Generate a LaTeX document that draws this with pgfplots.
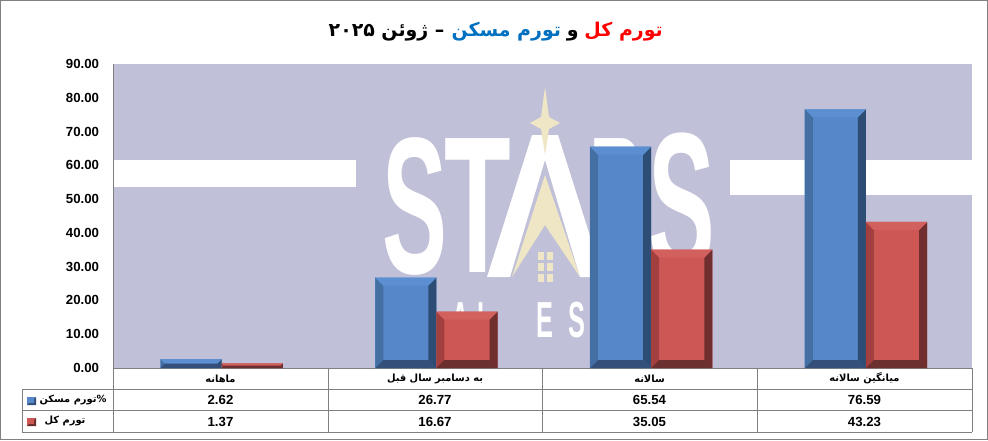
\documentclass[border=0pt]{standalone}
\usepackage{pgfplots}
\usepackage{pgfplotstable}
\usepackage{fontspec}
\pgfplotsset{compat=1.18}
\setmainfont{Liberation Sans}
\TeXXeTstate=1
\newfontfamily\arabicfont[Script=Arabic]{DejaVu Sans}
\definecolor{bgl}{HTML}{C0C0D8}
\definecolor{gridg}{HTML}{808080}
\definecolor{wmy}{HTML}{EFE6C6}
\definecolor{bface}{HTML}{5688C9}
\definecolor{bleft}{HTML}{436FA3}
\definecolor{bright}{HTML}{2E4D74}
\definecolor{btop}{HTML}{5B8FD2}
\definecolor{bbot}{HTML}{34507A}
\definecolor{rface}{HTML}{CD5755}
\definecolor{rleft}{HTML}{A33F3E}
\definecolor{rright}{HTML}{702E2E}
\definecolor{rtop}{HTML}{D2605C}
\definecolor{rbot}{HTML}{6B2F2F}
\definecolor{ttlblue}{HTML}{0070C0}

\pgfplotstableread{
x housing general
0 2.62 1.37
1 26.77 16.67
2 65.54 35.05
3 76.59 43.23
}\inflationdata

% x left edge, value, colour prefix (b or r): four bevel strips on a bar
\newcommand{\bevelbar}[3]{%
  \pgfmathsetmacro{\xa}{#1}%
  \pgfmathsetmacro{\xb}{#1+0.2845}%
  \pgfmathsetmacro{\dpx}{min(8,#2*3.378/2)}%
  \pgfmathsetmacro{\xi}{#1+\dpx/214.75}%
  \pgfmathsetmacro{\xj}{#1+0.2845-\dpx/214.75}%
  \pgfmathsetmacro{\ya}{\dpx/3.378}%
  \pgfmathsetmacro{\yb}{#2-\dpx/3.378}%
  \addplot[fill=#3left,draw=none,forget plot] coordinates {(\xa,0) (\xi,\ya) (\xi,\yb) (\xa,#2)};
  \addplot[fill=#3right,draw=none,forget plot] coordinates {(\xb,0) (\xj,\ya) (\xj,\yb) (\xb,#2)};
  \addplot[fill=#3top,draw=none,forget plot] coordinates {(\xa,#2) (\xi,\yb) (\xj,\yb) (\xb,#2)};
  \addplot[fill=#3bot,draw=none,forget plot] coordinates {(\xa,0) (\xi,\ya) (\xj,\ya) (\xb,0)};
}
\newcommand{\wmletter}[5]{% x, y, hscale, size, text
  \node[white,inner sep=0pt] at (#1,#2) {\scalebox{#3}[1]{\fontsize{#4}{#4}\selectfont\bfseries #5}};}
\newcommand{\fa}[1]{{\arabicfont\bfseries\beginR #1\endR}}

\begin{document}
\begin{tikzpicture}
% pixel coordinates, y down
\begin{scope}[x=0.75pt,y=-0.75pt,yshift=330pt]
\fill[white] (0,0) rectangle (988,440);
\draw[gridg,line width=0.8pt] (0.6,0.6) rectangle (987.4,439.4);

% plot background and watermark
\fill[bgl] (113,64) rectangle (972,368);
\fill[white] (113,160) rectangle (356,187);
\fill[white] (730,160) rectangle (972,195);
\wmletter{415}{206}{0.50}{146}{S}
\wmletter{478}{206}{0.56}{146}{T}
\fill[white] (532,135) -- (558,135) -- (603,277) -- (580,277) -- (545,160) -- (510,277) -- (487,277) -- cycle;
\wmletter{618}{206}{0.40}{146}{R}
\wmletter{682}{204}{0.50}{150}{S}
\fill[wmy] (545,87) -- (549,117) -- (560,123) -- (549,129) -- (545,155) -- (541,129) -- (530,123) -- (541,117) -- cycle;
\fill[wmy] (545,175) -- (580,277) -- (545,225) -- (512,277) -- cycle;
\foreach \wx in {538,547} \foreach \wy in {252,263,274}
  \fill[wmy] (\wx,\wy) rectangle ++(6,8);
\wmletter{461}{320}{0.5}{38}{A}
\wmletter{485}{320}{0.5}{38}{L}
\wmletter{545}{320}{0.5}{38}{E}
\wmletter{577}{320}{0.5}{38}{S}
\end{scope}

\begin{axis}[
  at={(84.75pt,54pt)},anchor=south west,
  scale only axis,width=644.25pt,height=228pt,
  xmin=-0.506,xmax=3.494,ymin=0,ymax=90,
  ytick={0,10,...,90},xtick=\empty,
  axis line style={gridg,line width=0.7pt},
  axis x line*=bottom,axis y line*=left,
  x axis line style={-},y axis line style={-},
  ytick style={draw=none},
  tick label style={font=\fontsize{9.9}{11}\selectfont\bfseries},
  /pgf/number format/assume math mode=true,
  /pgf/number format/fixed,/pgf/number format/fixed zerofill,/pgf/number format/precision=2,
  yticklabel style={xshift=-7pt},
  clip=false
]
\addplot[ybar,bar width=45.9pt,bar shift=-22.95pt,fill=bface,draw=none] table[x=x,y=housing] {\inflationdata};
\addplot[ybar,bar width=45.9pt,bar shift=22.95pt,fill=rface,draw=none] table[x=x,y=general] {\inflationdata};
\bevelbar{-0.2845}{2.62}{b}
\bevelbar{0}{1.37}{r}
\bevelbar{0.7155}{26.77}{b}
\bevelbar{1}{16.67}{r}
\bevelbar{1.7155}{65.54}{b}
\bevelbar{2}{35.05}{r}
\bevelbar{2.7155}{76.59}{b}
\bevelbar{3}{43.23}{r}
\end{axis}

\begin{scope}[x=0.75pt,y=-0.75pt,yshift=330pt]
% title, one node per colour, laid out from the right
\begin{scope}[every node/.style={inner sep=0pt,font=\fontsize{14.2}{18}\selectfont}]
\node[anchor=base east,red] (t1) at (663,37) {\fa{تورم کل}};
\node[anchor=base east,xshift=-4pt] (t2) at (t1.base west) {\fa{و}};
\node[anchor=base east,xshift=-4pt,ttlblue] (t3) at (t2.base west) {\fa{تورم مسکن}};
\node[anchor=base east,xshift=-5pt] (t4) at (t3.base west) {\fa{– ژوئن \beginL ۲۰۲۵\endL}};
\end{scope}

% data table
\draw[gridg,line width=0.7pt] (113,368) -- (113,432) (22,389) -- (972,389) (22,410) -- (972,410) (22,432) -- (972,432)
  (22,389) -- (22,432) (972,368) -- (972,432)
  (328,368) -- (328,432) (542,368) -- (542,432) (757,368) -- (757,432);
\begin{scope}[every node/.style={inner sep=0pt,font=\fontsize{7.4}{9}\selectfont}]
\node at (220.5,378.5) {\fa{ماهانه}};
\node at (435,378.5) {\fa{به دسامبر سال قبل}};
\node at (649.5,378.5) {\fa{سالانه}};
\node at (864.5,378.5) {\fa{میانگین سالانه}};
\node at (73,399.5) {\fa{\%تورم مسکن}};
\node at (65,421) {\fa{تورم کل}};
\end{scope}
\begin{scope}[every node/.style={inner sep=0pt,font=\fontsize{9.9}{11}\selectfont\bfseries}]
\node at (220.5,400) {2.62};
\node at (435,400) {26.77};
\node at (649.5,400) {65.54};
\node at (864.5,400) {76.59};
\node at (220.5,421.5) {1.37};
\node at (435,421.5) {16.67};
\node at (649.5,421.5) {35.05};
\node at (864.5,421.5) {43.23};
\end{scope}

% legend keys
\fill[bface] (27,397) rectangle (36,405);
\fill[bbot] (27,405) -- (36,405) -- (36,397) -- (34,399) -- (34,403) -- (29,403) -- cycle;
\fill[rface] (27,418) rectangle (36,426);
\fill[rbot] (27,426) -- (36,426) -- (36,418) -- (34,420) -- (34,424) -- (29,424) -- cycle;
\end{scope}
\end{tikzpicture}
\end{document}
